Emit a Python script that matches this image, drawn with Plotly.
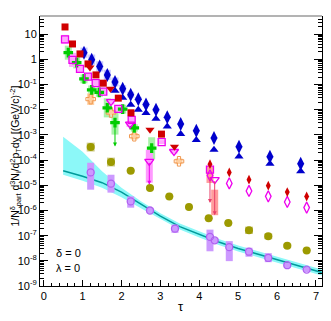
import math
import plotly.graph_objects as go

# ---------------- data ----------------
curve_tau = [0.5, 1.0, 1.5, 2.0, 2.5, 3.0, 3.5, 4.0, 4.5, 5.0, 5.5, 6.0, 6.5, 7.0, 7.15]
curve_val = [3.80e-5, 2.30e-5, 1.27e-5, 5.33e-6, 1.78e-6, 5.97e-7, 2.29e-7, 1.10e-7,
             5.56e-8, 3.07e-8, 1.86e-8, 1.12e-8, 6.81e-9, 4.12e-9, 3.44e-9]
band_hi = [8.47e-4, 2.15e-4, 3.63e-5, 8.05e-6, 2.34e-6, 7.85e-7, 3.01e-7, 1.45e-7,
           7.31e-8, 4.04e-8, 2.44e-8, 1.48e-8, 8.95e-9, 5.42e-9, 4.51e-9]
band_lo = [2.64e-5, 1.52e-5, 8.05e-6, 3.38e-6, 1.24e-6, 4.54e-7, 1.74e-7, 8.37e-8,
           4.23e-8, 2.33e-8, 1.41e-8, 8.55e-9, 5.18e-9, 3.13e-9, 2.61e-9]

red_sq_tau = [0.548, 0.740, 0.933, 1.139, 1.344, 1.532, 1.918, 2.244, 3.028]
red_sq_val = [19.5, 4.12, 1.66, 0.664, 0.243, 0.114, 0.029, 7.6e-3, 1.08e-3]

red_tri_tau = [1.190, 1.717, 2.733, 3.362]
red_tri_val = [0.483, 0.0678, 1.60e-3, 3.40e-4]

red_dia_tau = [4.275, 4.771, 5.278, 5.774, 6.262, 6.761]
red_dia_val = [6.9e-5, 3.25e-5, 1.67e-5, 9.7e-6, 5.4e-6, 3.6e-6]

mag_sq_tau = [0.548, 0.740, 0.933, 1.139, 1.337, 1.532, 1.918, 2.262, 3.033, 4.275]
mag_sq_val = [6.3, 0.96, 0.42, 0.208, 0.114, 0.053, 0.0109, 4.0e-3, 5.2e-4, 4.2e-5]
mag_sq_sys = [1.5, 1.9, 1.4, 1.4, 1.3, 1.3, 1.3, 1.3, 1.2, 1.0]

mag_tri_tau = [1.730, 2.219, 2.715, 3.350, 4.396]
mag_tri_val = [0.0213, 2.7e-3, 8.9e-5, 2.2e-4, 1.67e-5]
mag_tri_sys = [1.3, 1.3, 1.0, 1.2, 1.0]

mag_dia_tau = [4.275, 4.771, 5.278, 5.774, 6.262, 6.761]
mag_dia_val = [2.47e-5, 1.19e-5, 5.96e-6, 3.64e-6, 2.18e-6, 1.30e-6]

green_tau = [0.632, 0.848, 1.036, 1.234, 1.429, 1.635, 1.833, 2.031, 2.329, 2.776]
green_val = [1.86, 0.75, 0.169, 0.0618, 0.0492, 0.0120, 3.1e-3, 0.0106, 1.9e-3, 3.0e-4]
green_sys = [1.9, 1.7, 1.5, 1.5, 1.5, 2.4, 3.0, 1.5, 1.4, 2.7]

blue_dia_tau = [1.036, 1.234, 1.440, 1.635, 1.833, 2.031, 2.237, 2.432, 2.630, 2.887,
                3.177, 3.522, 3.923, 4.378, 5.021, 5.817, 6.607]
blue_dia_val = [1.86, 0.98, 0.53, 0.243, 0.128, 0.068, 0.040, 0.0265, 0.0162, 9.96e-3,
                5.1e-3, 2.7e-3, 1.47e-3, 7.5e-4, 3.4e-4, 1.36e-4, 7.2e-5]
blue_dia_sys = [1.6, 1.6, 1.6, 1.6, 1.5, 1.4, 1.3, 1.2, 1.2, 1.15, 1.15, 1.1, 1.1, 1.1, 1.1, 1.1, 1.1]

blue_tri_tau = [1.833, 2.031, 2.237, 2.432, 2.630, 2.887, 3.177, 3.522, 3.923, 4.378,
                5.021, 5.817, 6.607]
blue_tri_val = [0.0565, 0.0298, 0.0157, 9.96e-3, 7.4e-3, 4.4e-3, 2.17e-3, 1.08e-3, 6.3e-4,
                2.6e-4, 1.4e-4, 7.2e-5, 3.6e-5]

orange_tau = [1.208, 1.730, 2.329, 3.478]
orange_val = [0.0265, 7.8e-3, 8.9e-4, 9.0e-5]
orange_sys = [1.7, 1.3, 1.35, 1.3]

olive_tau = [1.208, 1.730, 2.237, 2.733, 3.229, 3.735, 4.242, 4.746, 5.278, 5.774, 6.262, 6.761]
olive_val = [3.3e-4, 8.4e-5, 3.8e-5, 7.8e-6, 3.6e-6, 1.38e-6, 4.9e-7, 3.2e-7, 1.63e-7,
             9.4e-8, 4.0e-8, 2.6e-8]
olive_sys = [1.5, 1.5, 1.1, 1.15, 1.1, 1.1, 1.1, 1.1, 1.4, 1.3, 1.2, 1.1]

purple_tau = [1.208, 1.730, 2.237, 2.733, 3.375, 4.275, 4.396, 4.771, 5.278, 5.774, 6.262, 6.761]
purple_val = [3.25e-5, 1.16e-5, 2.3e-6, 1.0e-6, 1.9e-7, 8.9e-8, 6.5e-8, 3.5e-8, 2.3e-8,
              1.3e-8, 6.7e-9, 4.5e-9]
purple_up = [2.42, 2.27, 1.58, 1.28, 1.44, 1.95, 1.28, 1.73, 1.44, 1.55, 1.28, 1.25]
purple_dn = [4.85, 2.27, 1.78, 1.28, 1.47, 3.72, 1.30, 3.60, 1.58, 1.47, 1.30, 1.25]

red_box_tau = [4.275, 4.396]
red_box_lo = [1.24e-5, 6.5e-7]
red_box_hi = [5.6e-5, 6.7e-6]

pink_box_tau = [2.715]
pink_box_lo = [1.27e-5]
pink_box_hi = [2.58e-4]

ul_tau = [1.833, 2.715, 4.275, 4.396]
ul_from = [3.1e-3, 8.9e-5, 2.41e-5, 1.67e-5]
ul_to = [3.49e-4, 1.06e-5, 1.99e-6, 6.5e-7]
ul_color = ["#00cc00", "#ee00ee", "#e8406a", "#e8406a"]

ytick_vals = [1e-9, 1e-8, 1e-7, 1e-6, 1e-5, 1e-4, 1e-3, 1e-2, 1e-1, 1, 10]
ytick_text = ["10<sup>-9</sup>", "10<sup>-8</sup>", "10<sup>-7</sup>", "10<sup>-6</sup>",
              "10<sup>-5</sup>", "10<sup>-4</sup>", "10<sup>-3</sup>", "10<sup>-2</sup>",
              "10<sup>-1</sup>", "1", "10"]
xtick_vals = [0, 1, 2, 3, 4, 5, 6, 7]

FONT = "Liberation Sans, Arial, sans-serif"

fig = go.Figure()


def box_trace(tau, lo, hi, color, width):
    fig.add_trace(go.Scatter(
        x=tau, y=hi, mode="markers",
        marker=dict(size=1, color=color, opacity=0),
        error_y=dict(type="data", symmetric=False,
                     array=[0] * len(tau),
                     arrayminus=[h - l for h, l in zip(hi, lo)],
                     color=color, thickness=width, width=0),
        hoverinfo="skip", showlegend=False))


def sym_box(tau, val, fac, color, width):
    box_trace(tau, [v / f for v, f in zip(val, fac)], [v * f for v, f in zip(val, fac)], color, width)


def marks(tau, val, symbol, color, size, open_=False, lw=1.3):
    fig.add_trace(go.Scatter(
        x=tau, y=val, mode="markers",
        marker=dict(symbol=symbol, size=size, color=color,
                    line=dict(width=lw if open_ else 0, color=color)),
        hoverinfo="skip", showlegend=False))


# cyan band + curve
fig.add_trace(go.Scatter(x=curve_tau, y=band_lo, mode="lines", line=dict(width=0, color="#88f6f6"),
                         hoverinfo="skip", showlegend=False))
fig.add_trace(go.Scatter(x=curve_tau, y=band_hi, mode="lines", line=dict(width=0, color="#88f6f6"),
                         fill="tonexty", fillcolor="#8cf8f8", hoverinfo="skip", showlegend=False))
fig.add_trace(go.Scatter(x=curve_tau, y=curve_val, mode="lines", line=dict(width=1.5, color="#009a9a"),
                         hoverinfo="skip", showlegend=False))

# systematic boxes
sym_box(blue_dia_tau, blue_dia_val, blue_dia_sys, "rgba(130,130,255,0.45)", 7)
sym_box(green_tau, green_val, green_sys, "#a8f2a8", 7)
sym_box(mag_sq_tau, mag_sq_val, mag_sq_sys, "#ffa6ff", 7)
sym_box(mag_tri_tau, mag_tri_val, mag_tri_sys, "#ffa6ff", 7)
sym_box(orange_tau, orange_val, orange_sys, "#ffcfa0", 7)
sym_box(olive_tau, olive_val, olive_sys, "#cfcc8c", 8)
box_trace(purple_tau, [v / d for v, d in zip(purple_val, purple_dn)],
          [v * u for v, u in zip(purple_val, purple_up)], "#cc99ff", 7)
box_trace(red_box_tau, red_box_lo, red_box_hi, "rgba(255,90,90,0.6)", 7)
box_trace(pink_box_tau, pink_box_lo, pink_box_hi, "#ff99ff", 7)

# markers
marks(olive_tau, olive_val, "circle", "#9c9a00", 8)
marks(purple_tau, purple_val, "circle-open", "#b060f0", 7, True)
marks(orange_tau, orange_val, "cross-open", "#f09850", 8, True, 1.0)
marks(green_tau, green_val, "cross", "#00cc00", 8)
marks(blue_tri_tau, blue_tri_val, "triangle-up", "#0000cc", 8)
marks(blue_dia_tau, blue_dia_val, "diamond-tall", "#0000cc", 10)
marks(mag_sq_tau, mag_sq_val, "square-open", "#ee00ee", 7, True)
marks(mag_tri_tau, mag_tri_val, "triangle-down-open", "#ee00ee", 8, True)
marks(mag_dia_tau, mag_dia_val, "diamond-tall-open", "#ee00ee", 8, True)
marks(red_sq_tau, red_sq_val, "square", "#d00000", 7)
marks(red_tri_tau, red_tri_val, "triangle-down", "#d00000", 8)
marks(red_dia_tau, red_dia_val, "diamond-tall", "#d00000", 7)

annotations = []
for t, f, tt, c in zip(ul_tau, ul_from, ul_to, ul_color):
    annotations.append(dict(x=t, y=math.log10(tt), ax=t, ay=math.log10(f), xref="x", yref="y",
                            axref="x", ayref="y", showarrow=True, arrowhead=2, arrowsize=0.8,
                            arrowwidth=1, arrowcolor=c, text=""))

annotations += [
    dict(text="1/N<sup>δ</sup><sub>part</sub> d<sup>3</sup>N<sub>i</sub>/d<sup>2</sup>p<sub>T</sub>dy [(GeV/c)<sup>-2</sup>]",
         xref="paper", yref="paper", x=-0.086, y=0.482, textangle=-90, showarrow=False,
         xanchor="center", yanchor="middle", font=dict(family=FONT, size=10.5, color="black")),
    dict(text="τ", xref="paper", yref="paper", x=0.5, y=-0.042, showarrow=False,
         xanchor="center", yanchor="top", font=dict(family=FONT, size=13, color="black")),
    dict(text="δ = 0", xref="x", yref="y", x=0.27, y=-7.67, showarrow=False,
         xanchor="left", yanchor="middle", font=dict(family=FONT, size=11, color="black")),
    dict(text="λ = 0", xref="x", yref="y", x=0.27, y=-8.29, showarrow=False,
         xanchor="left", yanchor="middle", font=dict(family=FONT, size=11, color="black")),
]

minor_y = [m * 10 ** e for e in range(-9, 2) for m in range(2, 10)]

# page body has an 8px margin: size the figure so the plot lands where the reference has it
fig.update_layout(
    width=323, height=313,
    margin=dict(l=32, r=9, t=8, b=34.5),
    paper_bgcolor="white", plot_bgcolor="white",
    showlegend=False,
    annotations=annotations,
    shapes=[dict(type="line", xref="paper", yref="paper", x0=0, x1=1, y0=1, y1=1,
                 line=dict(color="#9a9a9a", width=1.5))],
    xaxis=dict(range=[-0.095, 7.155], tickvals=xtick_vals, ticks="inside", ticklen=6,
               tickcolor="black", showline=True, linecolor="black", linewidth=1,
               showgrid=False, zeroline=False,
               minor=dict(dtick=0.2, ticks="inside", ticklen=3, tickcolor="black", showgrid=False),
               tickfont=dict(family=FONT, size=11, color="black")),
    yaxis=dict(type="log", range=[-9, 1.726], tickvals=ytick_vals, ticktext=ytick_text,
               ticks="inside", ticklen=8, tickcolor="black", showline=True, linecolor="black",
               linewidth=1, mirror="ticks", showgrid=False, zeroline=False,
               minor=dict(tickvals=minor_y, ticks="inside", ticklen=4, tickcolor="black", showgrid=False),
               tickfont=dict(family=FONT, size=11, color="black")),
)

fig.write_html("out.html")
